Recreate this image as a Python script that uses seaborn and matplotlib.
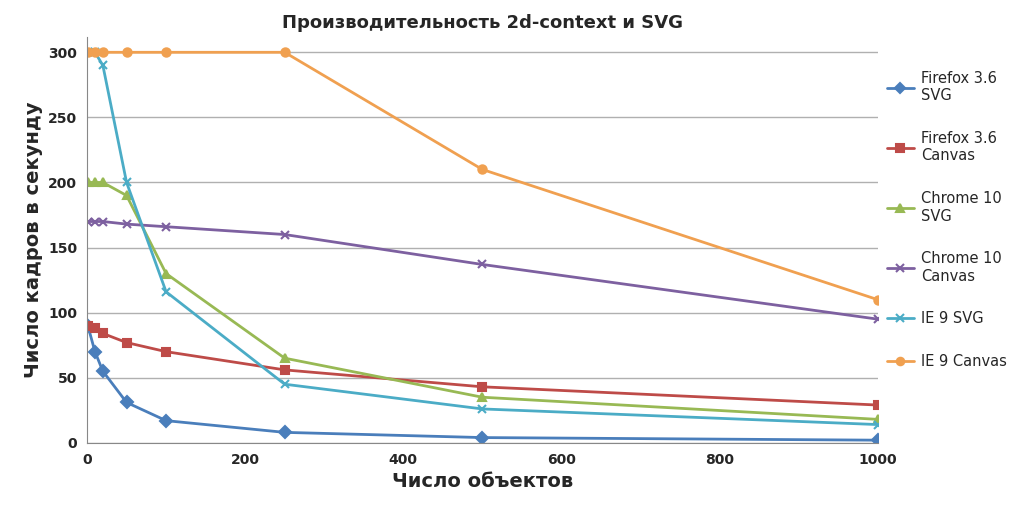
import numpy as np
import pandas as pd
import matplotlib
matplotlib.use("Agg")
import matplotlib.pyplot as plt
import seaborn as sns

objects = [1, 10, 20, 50, 100, 250, 500, 1000]
ff_svg = [90, 70, 55, 31, 17, 8, 4, 2]
ff_canvas = [90, 88, 84, 77, 70, 56, 43, 29]
ch_svg = [200, 200, 200, 190, 130, 65, 35, 18]
ch_canvas = [170, 170, 170, 168, 166, 160, 137, 95]
ie_svg = [300, 300, 290, 200, 116, 45, 26, 14]
ie_canvas = [300, 300, 300, 300, 300, 300, 210, 110]

series = [
    ("Firefox 3.6\nSVG", ff_svg, "#4a7ebb", "D"),
    ("Firefox 3.6\nCanvas", ff_canvas, "#be4b48", "s"),
    ("Chrome 10\nSVG", ch_svg, "#98b954", "^"),
    ("Chrome 10\nCanvas", ch_canvas, "#7d60a0", "x"),
    ("IE 9 SVG", ie_svg, "#4bacc6", "x"),
    ("IE 9 Canvas", ie_canvas, "#f0a050", "o"),
]

sns.set_style("white")
plt.rcParams["font.family"] = ["DejaVu Sans"]

fig = plt.figure(figsize=(10.24, 5.24), dpi=100)
ax = fig.add_axes([0.085, 0.155, 0.772, 0.775])

for name, vals, color, marker in series:
    df = pd.DataFrame({"x": objects, "y": vals})
    sns.lineplot(data=df, x="x", y="y", ax=ax, color=color, marker=marker,
                 markersize=6, linewidth=2, label=name,
                 markeredgecolor=color, markeredgewidth=1.5)

ax.set_xlim(0, 1000)
ax.set_ylim(0, 312)
ax.set_yticks(range(0, 301, 50))
ax.set_xticks(range(0, 1001, 200))
ax.yaxis.grid(True, color="#b0b0b0", linewidth=1)
for s in ["top", "right"]:
    ax.spines[s].set_visible(False)
ax.spines["left"].set_color("#888888")
ax.spines["bottom"].set_color("#888888")
ax.tick_params(labelsize=10)
for lbl in ax.get_xticklabels() + ax.get_yticklabels():
    lbl.set_fontweight("bold")
ax.set_xlabel("Число объектов", fontsize=14, fontweight="bold")
ax.set_ylabel("Число кадров в секунду", fontsize=14, fontweight="bold")
ax.set_title("Производительность 2d-context и SVG", fontsize=13, fontweight="bold")

ax.legend(loc="upper left", bbox_to_anchor=(1.005, 0.93), frameon=False,
          fontsize=10.5, labelspacing=1.9, handlelength=1.8, handletextpad=0.5,
          borderaxespad=0, markerscale=0.9)

fig.savefig("out.png", dpi=100)
